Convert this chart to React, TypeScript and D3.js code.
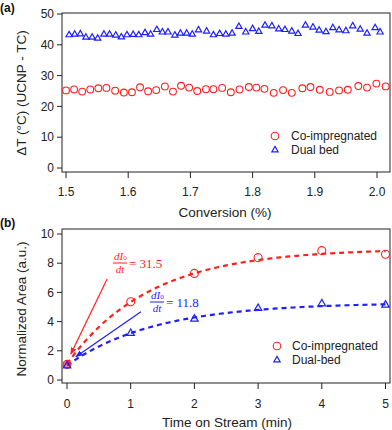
import React from "react";
import * as d3 from "d3";

// ---- Panel (a) data ----
const coConv = [1.5, 1.513, 1.526, 1.539, 1.552, 1.565, 1.579, 1.593, 1.606, 1.619, 1.632, 1.645, 1.659, 1.672, 1.685, 1.698, 1.711, 1.725, 1.737, 1.751, 1.765, 1.779, 1.794, 1.806, 1.819, 1.834, 1.849, 1.863, 1.88, 1.893, 1.908, 1.924, 1.939, 1.953, 1.97, 1.984, 1.999, 2.014];
const coDT = [25.2, 25.5, 24.8, 25.5, 25.9, 26.0, 25.1, 24.5, 24.6, 26.2, 24.9, 25.3, 26.5, 24.8, 26.7, 26.1, 25.0, 25.6, 25.6, 26.0, 24.6, 25.5, 26.3, 26.1, 25.7, 24.4, 25.3, 24.4, 25.9, 26.3, 25.4, 24.7, 25.2, 25.4, 26.6, 26.1, 27.4, 26.5];
const dualConv = [1.505, 1.514, 1.523, 1.532, 1.542, 1.551, 1.561, 1.57, 1.58, 1.589, 1.598, 1.608, 1.617, 1.627, 1.636, 1.646, 1.655, 1.664, 1.675, 1.684, 1.694, 1.703, 1.713, 1.726, 1.737, 1.747, 1.757, 1.767, 1.778, 1.789, 1.8, 1.81, 1.82, 1.831, 1.842, 1.852, 1.863, 1.873, 1.885, 1.897, 1.907, 1.918, 1.929, 1.939, 1.95, 1.961, 1.973, 1.984, 1.997, 2.005];
const dualDT = [43.2, 43.4, 43.5, 42.4, 42.4, 42.1, 43.4, 43.4, 43.1, 42.5, 43.2, 43.3, 43.2, 43.9, 43.4, 44.9, 44.1, 44.1, 43.1, 43.7, 43.7, 43.4, 44.8, 44.4, 43.2, 43.6, 43.4, 43.7, 45.9, 44.1, 45.2, 44.3, 46.3, 46.1, 45.1, 44.9, 44.4, 43.6, 46.3, 45.7, 44.7, 44.2, 45.5, 44.8, 44.5, 46.1, 45.0, 43.7, 45.5, 44.1];
const aXTicks = [1.5, 1.6, 1.7, 1.8, 1.9, 2.0];
const aYTicks = [0, 10, 20, 30, 40, 50];

// ---- Panel (b) data ----
const tos = [0, 1, 2, 3, 4, 5];
const coArea = [1.07, 5.36, 7.3, 8.38, 8.86, 8.61];
const dualArea = [0.98, 3.2, 4.18, 4.91, 5.23, 5.14];
// exponential fit parameters y = A - (A - y0) * exp(-k t)
const fitA = [9.0, 5.3];
const fitY0 = [1.1, 1.0];
const fitK = [0.77, 0.72];
const bXTicks = [0, 1, 2, 3, 4, 5];
const bYTicks = [0, 2, 4, 6, 8, 10];
// tangent arrows [x1,y1,x2,y2] in data units
const redArrow = [0.63, 6.92, 0.06, 1.78];
const blueArrow = [1.16, 4.68, 0.14, 1.6];

const RED = "#ff1f1f";
const BLUE = "#1f1fff";
const AX = "#222";
const FONT = "'Liberation Sans', Arial, sans-serif";
const SERIF = "'Liberation Serif', 'DejaVu Serif', serif";

const tri = (size: number) => d3.symbol().type(d3.symbolTriangle).size(size)()!;

function fitPts(i: number) {
  const ts = d3.range(0, 5.0001, 0.05);
  return ts.map((t) => [t, fitA[i] - (fitA[i] - fitY0[i]) * Math.exp(-fitK[i] * t)] as [number, number]);
}

function Fraction({ cx, barY, color, value }: { cx: number; barY: number; color: string; value: string }) {
  return (
    <g fontFamily={SERIF} fill={color}>
      <text x={cx - 6} y={barY - 3} fontSize={11} fontStyle="italic">dI<tspan fontSize={7} fontStyle="normal">0</tspan></text>
      <line x1={cx - 7} x2={cx + 7} y1={barY} y2={barY} stroke={color} strokeWidth={1} />
      <text x={cx} y={barY + 10} fontSize={11} fontStyle="italic" textAnchor="middle">dt</text>
      <text x={cx + 9} y={barY + 4.5} fontSize={13}>= {value}</text>
    </g>
  );
}

export default function App() {
  // panel a scales
  const ax = d3.scaleLinear().domain([1.5, 2.0]).range([66, 377]);
  const ay = d3.scaleLinear().domain([0, 50]).range([168, 14]);
  // panel b scales
  const bx = d3.scaleLinear().domain([0, 5]).range([67, 385.5]);
  const by = d3.scaleLinear().domain([0, 10]).range([380, 234]);

  const lineB = d3.line<[number, number]>().x((d) => bx(d[0])).y((d) => by(d[1]));

  const frameA = { l: 62, r: 390, t: 13, b: 172 };
  const frameB = { l: 62, r: 390, t: 229, b: 383 };

  const triA = tri(17);
  const triB = tri(24);

  return (
    <svg width={392} height={430} style={{ position: "absolute", left: 0, top: 0, fontFamily: FONT }}>
      <defs>
        <marker id="arrR" viewBox="0 0 10 10" refX="9" refY="5" markerWidth="6" markerHeight="6" orient="auto">
          <path d="M0,1 L10,5 L0,9 z" fill={RED} />
        </marker>
        <marker id="arrB" viewBox="0 0 10 10" refX="9" refY="5" markerWidth="6" markerHeight="6" orient="auto">
          <path d="M0,1 L10,5 L0,9 z" fill={BLUE} />
        </marker>
      </defs>

      {/* ---------- Panel (a) ---------- */}
      <text x={0} y={12} fontSize={12} fontWeight="bold" fill="#111">(a)</text>
      <rect x={frameA.l} y={frameA.t} width={frameA.r - frameA.l} height={frameA.b - frameA.t} fill="none" stroke={AX} strokeWidth={1} />
      {aYTicks.map((v) => (
        <g key={"ay" + v}>
          <line x1={frameA.l} x2={frameA.l - 5} y1={ay(v)} y2={ay(v)} stroke={AX} />
          <text x={54} y={ay(v)} dy="0.35em" textAnchor="end" fontSize={12} fill="#222">{v}</text>
        </g>
      ))}
      {aXTicks.map((v) => (
        <g key={"ax" + v}>
          <line x1={ax(v)} x2={ax(v)} y1={frameA.b} y2={frameA.b + 6} stroke={AX} />
          <text x={ax(v)} y={192} dy="0.35em" textAnchor="middle" fontSize={12} fill="#222">{v.toFixed(1)}</text>
        </g>
      ))}
      <text x={225} y={212} dy="0.35em" textAnchor="middle" fontSize={13.5} fill="#222">Conversion (%)</text>
      <text transform={`translate(21,${93}) rotate(-90)`} textAnchor="middle" dy="0.35em" fontSize={13.5} fill="#222">ΔT (°C) (UCNP - TC)</text>
      {coConv.map((c, i) => (
        <circle key={"ca" + i} cx={ax(c)} cy={ay(coDT[i])} r={3.4} fill="none" stroke={RED} strokeWidth={1.1} />
      ))}
      {dualConv.map((c, i) => (
        <path key={"da" + i} d={triA} transform={`translate(${ax(c)},${ay(dualDT[i])})`} fill="none" stroke={BLUE} strokeWidth={1.2} />
      ))}
      {/* legend a */}
      <circle cx={275} cy={136} r={3.8} fill="none" stroke={RED} strokeWidth={1.1} />
      <text x={291} y={136} dy="0.35em" fontSize={12} fill="#222">Co-impregnated</text>
      <path d={triA} transform="translate(275,150)" fill="none" stroke={BLUE} strokeWidth={1.2} />
      <text x={291} y={150} dy="0.35em" fontSize={12} fill="#222">Dual bed</text>

      {/* ---------- Panel (b) ---------- */}
      <text x={0} y={227} fontSize={12} fontWeight="bold" fill="#111">(b)</text>
      <rect x={frameB.l} y={frameB.t} width={frameB.r - frameB.l} height={frameB.b - frameB.t} fill="none" stroke={AX} strokeWidth={1} />
      {bYTicks.map((v) => (
        <g key={"by" + v}>
          <line x1={frameB.l} x2={frameB.l - 5} y1={by(v)} y2={by(v)} stroke={AX} />
          <text x={54} y={by(v)} dy="0.35em" textAnchor="end" fontSize={12} fill="#222">{v}</text>
        </g>
      ))}
      {bXTicks.map((v) => (
        <g key={"bx" + v}>
          <line x1={bx(v)} x2={bx(v)} y1={frameB.b} y2={frameB.b + 6} stroke={AX} />
          <text x={bx(v)} y={404} dy="0.35em" textAnchor="middle" fontSize={12} fill="#222">{v}</text>
        </g>
      ))}
      <text x={227} y={422} dy="0.35em" textAnchor="middle" fontSize={13.5} fill="#222">Time on Stream (min)</text>
      <text transform={`translate(21,${309}) rotate(-90)`} textAnchor="middle" dy="0.35em" fontSize={13.5} fill="#222">Normalized Area (a.u.)</text>

      {/* fit curves */}
      <path d={lineB(fitPts(0))!} fill="none" stroke={RED} strokeWidth={2.2} strokeDasharray="5,4" />
      <path d={lineB(fitPts(1))!} fill="none" stroke={BLUE} strokeWidth={2.2} strokeDasharray="5,4" />

      {/* tangent arrows */}
      <line x1={bx(redArrow[0])} y1={by(redArrow[1])} x2={bx(redArrow[2])} y2={by(redArrow[3])} stroke={RED} strokeWidth={1.2} markerEnd="url(#arrR)" />
      <line x1={bx(blueArrow[0])} y1={by(blueArrow[1])} x2={bx(blueArrow[2])} y2={by(blueArrow[3])} stroke={BLUE} strokeWidth={1.2} markerEnd="url(#arrB)" />

      {/* markers */}
      {tos.map((t, i) => (
        <circle key={"cb" + i} cx={bx(t)} cy={by(coArea[i])} r={4} fill={i === 0 ? RED : "none"} fillOpacity={i === 0 ? 0.6 : 0} stroke={RED} strokeWidth={1.1} />
      ))}
      {tos.map((t, i) => (
        <path key={"db" + i} d={triB} transform={`translate(${bx(t)},${by(dualArea[i])})`} fill="none" stroke={BLUE} strokeWidth={1.2} />
      ))}

      {/* annotations */}
      <Fraction cx={120} barY={263} color={RED} value="31.5" />
      <Fraction cx={157} barY={302} color={BLUE} value="11.8" />

      {/* legend b */}
      <circle cx={277} cy={346} r={3.8} fill="none" stroke={RED} strokeWidth={1.1} />
      <text x={292} y={346} dy="0.35em" fontSize={12} fill="#222">Co-impregnated</text>
      <path d={triA} transform="translate(277,360)" fill="none" stroke={BLUE} strokeWidth={1.2} />
      <text x={292} y={360} dy="0.35em" fontSize={12} fill="#222">Dual-bed</text>
    </svg>
  );
}
